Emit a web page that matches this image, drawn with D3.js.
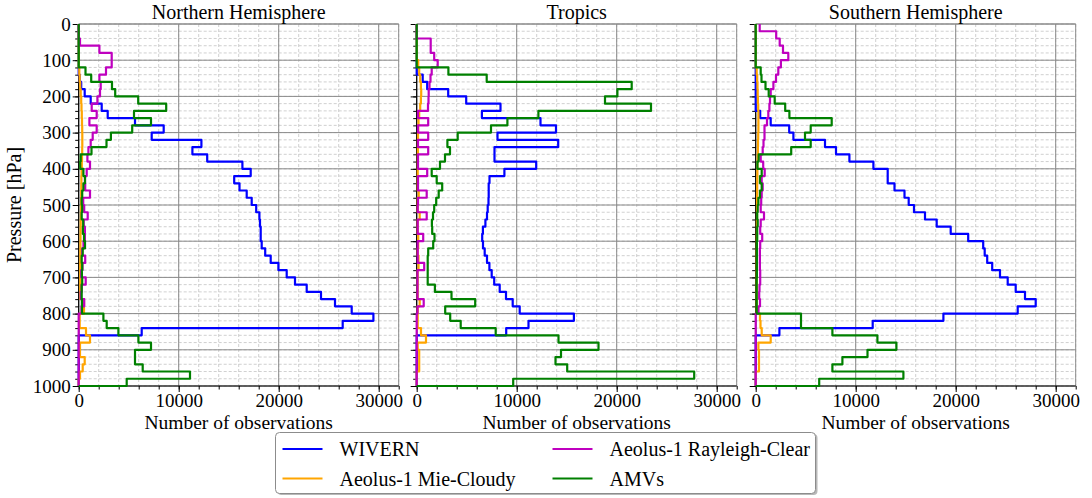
<!DOCTYPE html>
<html>
<head>
<meta charset="utf-8">
<script src="https://cdn.jsdelivr.net/npm/d3@7"></script>
<style>
  body { margin: 0; background: #fff; }
  svg text { font-family: "Liberation Serif", "Times New Roman", serif; fill: #000; }
</style>
</head>
<body>
<div id="chart"></div>
<script>
// pressure bins (upper edge of each 20 hPa layer)
const pressureBins = [0,20,40,60,80,100,120,140,160,180,200,220,240,260,280,300,320,340,360,380,
  400,420,440,460,480,500,520,540,560,580,600,620,640,660,680,700,720,740,760,780,
  800,820,840,860,880,900,920,940,960,980];
const binDepth = 20;

const xTickValues = [0, 10000, 20000, 30000];
const yTickValues = [0, 100, 200, 300, 400, 500, 600, 700, 800, 900, 1000];

const panelTitles = ["Northern Hemisphere", "Tropics", "Southern Hemisphere"];
const seriesNames = ["WIVERN", "Aeolus-1 Mie-Cloudy", "Aeolus-1 Rayleigh-Clear", "AMVs"];
const seriesColors = ["#0000ff", "#ffa500", "#bf00bf", "#008000"];

// Northern Hemisphere
const nhWivern = [0,0,0,0,0,0,0,100,250,600,1200,2300,2900,5630,8500,7300,12270,11370,12850,16370,
  17200,15550,16080,16800,17300,17750,18070,18130,18200,18200,18300,18650,19200,19970,20800,21630,22800,24230,25630,27300,
  29470,26400,6300,0,0,0,0,0,0,0];
const nhMie = [0,0,0,0,0,0,60,100,150,200,250,280,310,330,350,360,360,350,330,310,
  290,270,260,250,240,230,220,200,190,180,170,160,160,150,150,150,150,150,530,530,
  100,100,730,1130,130,130,600,400,130,0];
const nhRayleigh = [0,0,130,2070,3300,3300,2730,2070,2200,2130,1870,1300,1800,1070,1800,1400,1200,970,870,1130,
  800,630,650,1130,450,550,900,500,620,620,480,350,650,380,250,700,300,200,550,270,
  0,0,0,0,0,0,0,0,0,0];
const nhAmv = [0,0,0,0,0,0,680,1250,3330,3650,5950,8750,5530,7230,5350,3220,2780,1280,200,150,
  470,630,470,350,300,350,300,450,420,530,630,400,300,350,320,350,300,300,320,330,
  2470,2800,3970,5970,7230,5630,5630,6400,11130,4800];

// Tropics
const trWivern = [0,0,0,0,0,0,0,600,1050,3150,4950,8380,6520,12380,13930,8080,14150,7780,7780,11950,
  8770,7280,7200,7200,7180,7100,7030,6870,6620,6550,6630,6800,7030,7270,7500,7750,8300,8930,9600,10300,
  15720,11180,8950,0,0,0,0,0,0,0];
const trMie = [0,0,0,0,0,150,250,350,420,450,420,350,250,180,150,130,120,120,110,110,
  100,100,100,200,100,100,300,100,100,150,150,100,180,180,100,100,100,100,300,100,
  100,100,430,930,100,250,250,250,0,0];
const trRayleigh = [0,0,1400,1400,1750,2100,1500,1380,1280,1200,1180,1130,130,1150,130,1150,130,1150,130,130,
  1050,130,130,1000,130,100,1000,100,100,650,100,100,100,750,80,80,80,80,700,80,
  0,0,0,0,0,0,0,0,0,0];
const trAmv = [0,0,0,0,0,0,3170,7000,21500,20070,18830,23430,12170,9070,7430,4100,3070,3330,2830,2330,
  1500,2000,2550,2200,1950,1750,1630,1520,1550,1780,1650,1150,1100,1100,1100,1100,1820,3480,5850,2850,
  3350,4400,7900,14180,18180,14430,13880,15050,27750,9650];

// Southern Hemisphere
const shWivern = [0,0,0,0,0,0,0,0,0,0,0,0,450,1500,3350,3770,6930,8030,9370,11770,
  13200,13200,13880,14880,15300,15830,16930,18100,19500,21250,22750,22900,23150,23650,24430,25200,26000,26930,28000,26200,
  18770,11700,2370,0,0,0,0,0,0,0];
const shMie = [0,0,0,0,0,0,100,150,180,200,220,250,270,270,270,250,230,220,200,180,
  170,160,150,150,140,130,130,120,120,110,110,100,100,100,100,100,100,100,100,100,
  430,480,600,1500,270,330,330,330,0,0];
const shRayleigh = [400,2050,2400,2730,3260,2520,2260,2030,1770,1500,1430,1370,1260,1130,880,880,780,700,500,750,
  900,600,700,600,550,500,830,500,450,650,450,420,420,420,450,450,380,350,430,280,
  0,0,0,0,0,0,0,0,0,0];
const shAmv = [0,0,0,0,0,0,500,580,980,1300,1900,2950,3370,7600,5500,4930,5500,3550,300,170,
  600,430,600,430,270,200,150,200,150,150,120,120,120,120,120,100,100,100,100,100,
  4530,4530,7670,12170,14070,11180,8670,7670,14770,6350];

const panels = [
  { title: panelTitles[0], series: [nhWivern, nhMie, nhRayleigh, nhAmv] },
  { title: panelTitles[1], series: [trWivern, trMie, trRayleigh, trAmv] },
  { title: panelTitles[2], series: [shWivern, shMie, shRayleigh, shAmv] }
];

const W = 1092, H = 498;
const plotTop = 24, plotBottom = 386, panelWidth = 320;
const panelLefts = [78.7, 416.7, 755.7];
const xMax = 32000;

const svg = d3.select("#chart").append("svg")
  .attr("width", W)
  .attr("height", H);

const y = d3.scaleLinear().domain([0, 1000]).range([plotTop, plotBottom]);

// turn a binned profile into step vertices
function stepPoints(values) {
  const pts = [];
  values.forEach((v, i) => {
    pts.push([v, pressureBins[i]]);
    pts.push([v, pressureBins[i] + binDepth]);
  });
  pts.push([0, pressureBins[pressureBins.length - 1] + binDepth]);
  return pts;
}

panels.forEach((panel, k) => {
  const x0 = panelLefts[k];
  const x = d3.scaleLinear().domain([0, xMax]).range([x0, x0 + panelWidth]);
  const g = svg.append("g");

  // minor grid
  g.append("g").selectAll("line")
    .data(x.ticks(16))
    .enter().append("line")
    .attr("x1", d => x(d)).attr("x2", d => x(d))
    .attr("y1", plotTop).attr("y2", plotBottom)
    .attr("stroke", "#c4c4c4").attr("stroke-width", 0.8).attr("stroke-dasharray", "3,2");
  g.append("g").selectAll("line")
    .data(y.ticks(50))
    .enter().append("line")
    .attr("x1", x0).attr("x2", x0 + panelWidth)
    .attr("y1", d => y(d)).attr("y2", d => y(d))
    .attr("stroke", "#c4c4c4").attr("stroke-width", 0.8).attr("stroke-dasharray", "3,2");

  // major grid
  g.append("g").selectAll("line")
    .data(xTickValues)
    .enter().append("line")
    .attr("x1", d => x(d)).attr("x2", d => x(d))
    .attr("y1", plotTop).attr("y2", plotBottom)
    .attr("stroke", "#8a8a8a").attr("stroke-width", 1);
  g.append("g").selectAll("line")
    .data(yTickValues)
    .enter().append("line")
    .attr("x1", x0).attr("x2", x0 + panelWidth)
    .attr("y1", d => y(d)).attr("y2", d => y(d))
    .attr("stroke", "#8a8a8a").attr("stroke-width", 1);

  // top / right frame
  g.append("path")
    .attr("d", `M${x0},${plotTop}H${x0 + panelWidth}V${plotBottom}`)
    .attr("fill", "none").attr("stroke", "#8a8a8a").attr("stroke-width", 1);

  // axes
  const yMinorAxis = d3.axisLeft(y).tickValues(y.ticks(50)).tickSize(3.5).tickFormat("");
  const yAxis = d3.axisLeft(y).tickValues(yTickValues).tickSize(6).tickPadding(2)
    .tickFormat(k === 0 ? d3.format("d") : "");
  const xMinorAxis = d3.axisBottom(x).tickValues(x.ticks(16)).tickSize(3.5).tickFormat("");
  const xAxis = d3.axisBottom(x).tickValues(xTickValues).tickSize(6).tickPadding(1.5).tickFormat(d3.format("d"));

  [[yMinorAxis, `translate(${x0},0)`], [yAxis, `translate(${x0},0)`],
   [xMinorAxis, `translate(0,${plotBottom})`], [xAxis, `translate(0,${plotBottom})`]]
    .forEach(([ax, tr]) => {
      const a = g.append("g").attr("transform", tr).call(ax);
      a.select(".domain").remove();
      a.selectAll("line").attr("stroke", "#000").attr("stroke-width", 1);
      a.selectAll("text").style("font-size", "19px")
        .style("font-family", "'Liberation Serif', 'Times New Roman', serif");
    });

  // spines
  g.append("path")
    .attr("d", `M${x0},${plotTop}V${plotBottom}H${x0 + panelWidth}`)
    .attr("fill", "none").attr("stroke", "#000").attr("stroke-width", 1.2);

  // profiles
  const line = d3.line().x(d => x(d[0])).y(d => y(d[1]));
  panel.series.forEach((vals, s) => {
    g.append("path")
      .datum(stepPoints(vals))
      .attr("d", line)
      .attr("fill", "none")
      .attr("stroke", seriesColors[s])
      .attr("stroke-width", 2.2)
      .attr("stroke-linejoin", "round");
  });

  // title and x label
  g.append("text")
    .attr("x", x0 + panelWidth / 2).attr("y", 18.5)
    .attr("text-anchor", "middle").style("font-size", "20px")
    .text(panel.title);
  g.append("text")
    .attr("x", x0 + panelWidth / 2).attr("y", 429)
    .attr("text-anchor", "middle").style("font-size", "19.5px")
    .text("Number of observations");
});

// y label
svg.append("text")
  .attr("transform", `translate(21,${(plotTop + plotBottom) / 2}) rotate(-90)`)
  .attr("text-anchor", "middle").style("font-size", "20px")
  .text("Pressure [hPa]");

// legend
const legend = svg.append("g");
legend.append("rect")
  .attr("x", 277.5).attr("y", 434).attr("width", 540).attr("height", 61).attr("rx", 4)
  .attr("fill", "#b8b8b8");
legend.append("rect")
  .attr("x", 275.5).attr("y", 432.5).attr("width", 540).attr("height", 61).attr("rx", 4)
  .attr("fill", "#fff").attr("stroke", "#8c8c8c").attr("stroke-width", 1);

const legendCols = [282.5, 552.5];
const legendRows = [449, 478.5];
seriesNames.forEach((name, i) => {
  const col = i < 2 ? 0 : 1, row = i % 2;
  const lx = legendCols[col], ly = legendRows[row];
  legend.append("line")
    .attr("x1", lx).attr("x2", lx + 40).attr("y1", ly).attr("y2", ly)
    .attr("stroke", seriesColors[i]).attr("stroke-width", 2.2);
  legend.append("text")
    .attr("x", lx + 57).attr("y", ly + 7)
    .style("font-size", "20px")
    .text(name);
});
</script>
</body>
</html>
